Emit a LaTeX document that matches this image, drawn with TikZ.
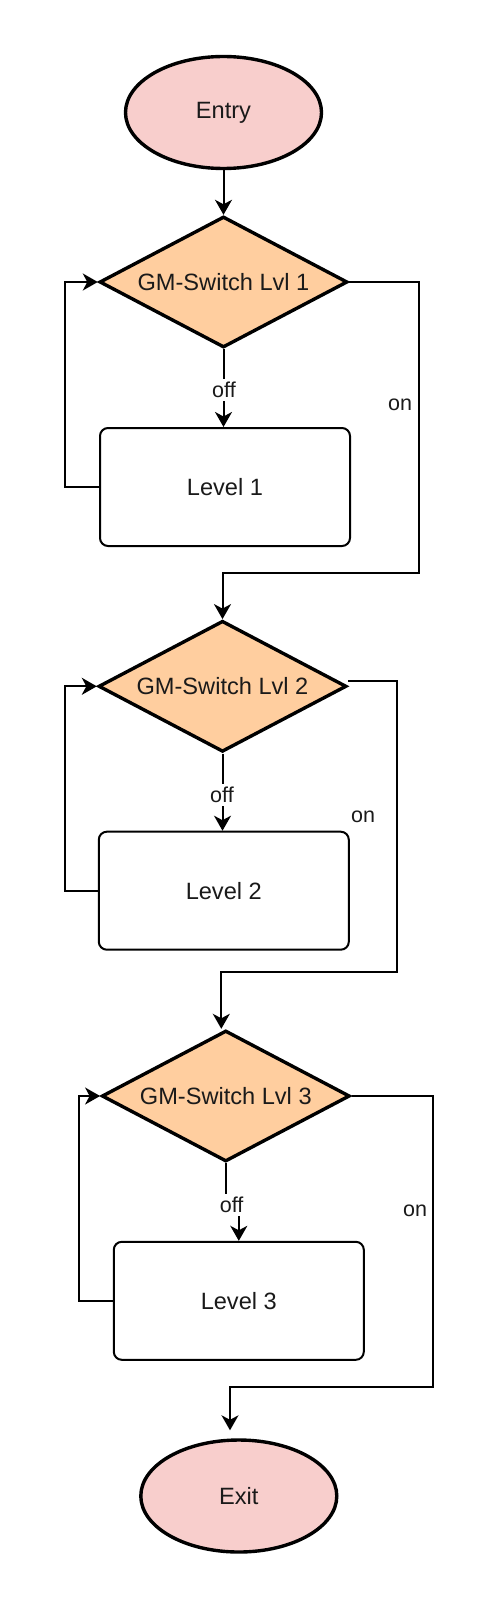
\documentclass[tikz,border=0pt]{standalone}
\usepackage{fontspec}
\setmainfont{Liberation Sans}
\usetikzlibrary{shapes.geometric,arrows.meta,calc}
\definecolor{pinkfill}{HTML}{F8CECC}
\definecolor{orangefill}{HTML}{FFCE9F}
\definecolor{txt}{HTML}{1A1A1A}
\begin{document}
\begin{tikzpicture}[x=1pt,y=-1pt,
  mainfont/.style={font=\fontsize{23.6}{27}\selectfont, text=txt},
  term/.style={ellipse, draw, line width=3.4pt, fill=pinkfill, minimum width=196pt, minimum height=112pt, inner sep=0pt, mainfont},
  decision/.style={diamond, draw, line width=3.4pt, fill=orangefill, aspect=1.9, minimum width=248pt, minimum height=131pt, inner sep=0pt, mainfont},
  levelbox/.style={rectangle, rounded corners=8pt, draw, line width=2pt, fill=white, minimum width=250pt, minimum height=118pt, mainfont},
  conn/.style={line width=2pt, -{Stealth[length=15pt,width=17pt,inset=4.5pt]}},
  lbl/.style={fill=white, inner xsep=1pt, inner ysep=3pt, font=\fontsize{21.5}{24}\selectfont, text=txt},
]
\useasboundingbox (0,0) rectangle (500,1608);
% nodes
\node[term] (entry) at (223.5,112.5) {Entry};
\node[decision] (d1) at (223.5,282) {GM-Switch Lvl 1};
\node[levelbox] (l1) at (225,487) {Level 1};
\node[decision] (d2) at (222.5,686.3) {GM-Switch Lvl 2};
\node[levelbox] (l2) at (223.8,890.7) {Level 2};
\node[decision] (d3) at (225.8,1096) {GM-Switch Lvl 3};
\node[levelbox] (l3) at (238.8,1300.8) {Level 3};
\node[term] (exit) at (238.8,1496) {Exit};
% helper coordinates
\coordinate (j3) at (231.7,1205);
% connectors
\draw[conn] (entry) -- (d1);
\draw[conn] (d1.south) -- (d1.south |- l1.north);
\draw[conn] (l1.west) -- ++(-34,0) |- (d1.west);
\draw[conn] (d1.east) -| (419,572.7) -| (d2.north);
\draw[conn] (d2.south) -- (d2.south |- l2.north);
\draw[conn] (l2.west) -- ++(-32.8,0) |- (d2.west);
\draw[conn] ([yshift=5pt]d2.east) -| (396.7,971.7) -| ([xshift=-4.5pt]d3.north);
\draw[conn] (d3.south) |- (j3) -| (l3.north);
\draw[conn] (l3.west) -- ++(-33.4,0) |- (d3.west);
\draw[conn] (d3.east) -| (432.7,1386.7) -| ([xshift=-8.8pt,yshift=8pt]exit.north);
% labels
\node[lbl] (off1) at (224,390) {off};
\node[lbl] (on1) at (400,405) {on};
\node[lbl] (off2) at (222,795) {off};
\node[lbl] (on2) at (363,816.7) {on};
\node[lbl] (off3) at (j3) {off};
\node[lbl] (on3) at (415,1210.7) {on};
\end{tikzpicture}
\end{document}
